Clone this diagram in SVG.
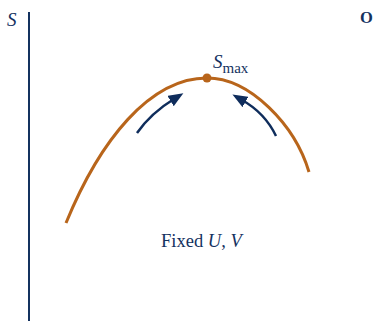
<svg xmlns="http://www.w3.org/2000/svg" width="375" height="321" viewBox="0 0 375 321">
<style>
.t{font-family:"Liberation Serif",serif;fill:#14325f}
.i{font-style:italic}
.arr{fill:none;stroke:#0f2d5c;stroke-width:2.5}
</style>
<defs>
<marker id="ah" viewBox="0 0 15 12" refX="4" refY="6" markerWidth="15" markerHeight="12" orient="auto" markerUnits="userSpaceOnUse">
<path d="M0,0 L15,6 L0,12 Z" fill="#0f2d5c"/>
</marker>
</defs>
<rect width="375" height="321" fill="#fff"/>
<g id="axis">
<line x1="29" y1="12" x2="29" y2="321" stroke="#14325f" stroke-width="2"/>
<text class="t i" x="7" y="26" font-size="19">S</text>
</g>
<g id="curve">
<path d="M66,223 C100,140 150,78 207,78 C250,78 295,125 309,172" fill="none" stroke="#b8651b" stroke-width="3"/>
<circle cx="207" cy="78" r="4.5" fill="#b8651b"/>
</g>
<g id="smax">
<text class="t" x="213" y="68" font-size="19"><tspan class="i">S</tspan><tspan dy="5" font-size="15">max</tspan></text>
</g>
<g id="connectors">
<path class="arr" d="M137,133 Q151,113 174,99" marker-end="url(#ah)"/>
<path class="arr" d="M276,136 Q265,113 242,100" marker-end="url(#ah)"/>
</g>
<g id="label">
<text class="t" x="161" y="247" font-size="18.5">Fixed <tspan class="i">U</tspan>, <tspan class="i">V</tspan></text>
</g>
<g id="corner">
<text class="t" x="360" y="23" font-size="16.5" font-weight="bold">O</text>
</g>
</svg>
